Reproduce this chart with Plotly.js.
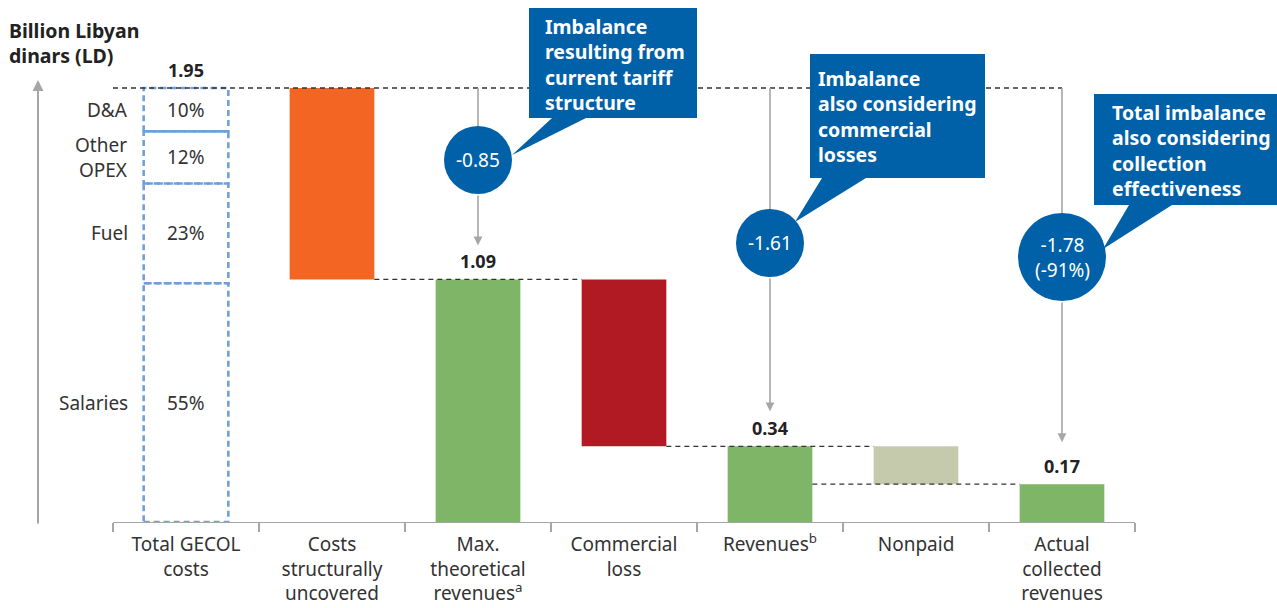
<!DOCTYPE html>
<html>
<head>
<meta charset="utf-8">
<script src="https://cdn.plot.ly/plotly-3.0.1.min.js"></script>
<style>
  html, body { margin: 0; padding: 0; background: #fff; }
  #chart { width: 1277px; height: 608px; }
</style>
</head>
<body>
<div id="chart"></div>
<script>
// --- data ---
const categories = [
  'Total GECOL costs', 'Costs structurally uncovered', 'Max. theoretical revenues',
  'Commercial loss', 'Revenues', 'Nonpaid', 'Actual collected revenues',
];
const tickLabels = [
  'Total GECOL<br>costs', 'Costs<br>structurally<br>uncovered', 'Max.<br>theoretical<br>revenues<sup>a</sup>',
  'Commercial<br>loss', 'Revenues<sup>b</sup>', 'Nonpaid', 'Actual<br>collected<br>revenues',
];
const barTop = [1.95, 1.95, 1.09, 1.09, 0.34, 0.34, 0.17];
const barBase = [0, 1.09, 0, 0.34, 0, 0.17, 0];
const showValue = [true, false, true, false, true, false, true];

// cost breakdown of the first bar, top to bottom
const costParts = ['D&A', 'Other<br>OPEX', 'Fuel', 'Salaries'];
const costShares = [10, 12, 23, 55];

// imbalance bubbles
const imbalanceCat = [2, 4, 6];
const imbalanceText = ['-0.85', '-1.61', '-1.78<br>(-91%)'];
const calloutText = [
  'Imbalance<br>resulting from<br>current tariff<br>structure',
  'Imbalance<br>also considering<br>commercial<br>losses',
  'Total imbalance<br>also considering<br>collection<br>effectiveness',
];

// --- styling / layout ---
const barColors = ['rgba(0,0,0,0)', '#f36523', '#7eb566', '#b11a22', '#7eb566', '#c6caac', '#7eb566'];
const BLUE = '#0061a8';
const GREY = '#a6a6a6';
const FONT = 'Noto Sans, Open Sans, Arial, sans-serif';
const barWidth = 0.58;
const hw = barWidth / 2;

const PX = { l: 113, t: 10, w: 1022, h: 512 };
const pxPerUnit = (522 - 88) / 1.95;
const yMax = PX.h / pxPerUnit;
const pxX = (x) => (x - PX.l) / PX.w;
const pxY = (y) => (PX.t + PX.h - y) / PX.h;

// bubble centres (data units) and radii (px)
const bubbleY = [(522 - 160) / pxPerUnit, (522 - 243) / pxPerUnit, (522 - 257) / pxPerUnit];
const bubbleR = [34, 34, 44];
const arrowGap = [34, 35, 42];

// callout boxes in px: [left, top, right, bottom, tailBase1, tailBase2, tipX, tipY, padLeft, padTop]
const calloutBox = [
  [529, 8, 697, 118, 552, 586, 512, 155, 14, 3],
  [810, 54, 985, 178, 822, 866, 795, 222, 6, 9],
  [1094, 94, 1290, 205, 1129, 1172, 1103, 249, 16, 3],
];

const trace = {
  type: 'bar',
  x: categories,
  y: barTop.map((t, i) => t - barBase[i]),
  base: barBase,
  width: barWidth,
  marker: { color: barColors, line: { width: 0 } },
  hoverinfo: 'skip',
};

const shapes = [];
const annotations = [];

// dashed outline of the cost breakdown, built from the bottom up
let acc = 0;
const bounds = [];
for (let i = costShares.length - 1; i >= 0; i--) {
  const lo = acc;
  acc += costShares[i] / 100 * barTop[0];
  bounds[i] = [lo, acc];
}
bounds.forEach(([lo, hi], i) => {
  shapes.push({
    type: 'rect', xref: 'x', yref: 'y', x0: -hw, x1: hw, y0: lo, y1: hi,
    line: { color: '#6fa0d8', width: 2.6, dash: '6px,4px' },
  });
  const mid = (lo + hi) / 2;
  annotations.push({
    x: categories[0], y: mid, xshift: -56, xanchor: 'right', showarrow: false,
    text: costParts[i], align: 'right', font: { size: 19, color: '#333' },
  });
  annotations.push({
    x: categories[0], y: mid, showarrow: false,
    text: costShares[i] + '%', font: { size: 19, color: '#333' },
  });
});

// dashed connectors
const dashLine = { color: '#333', width: 1.3, dash: '5px,4px' };
shapes.push({ type: 'line', xref: 'x', yref: 'y', x0: -0.5, x1: 6, y0: barTop[0], y1: barTop[0], line: dashLine });
[[1, 3, barBase[1]], [3, 5, barBase[3]], [4, 6, barBase[5]]].forEach(([a, b, y]) => {
  shapes.push({ type: 'line', xref: 'x', yref: 'y', x0: a + hw, x1: b - hw, y0: y, y1: y, line: dashLine });
});

// value labels
barTop.forEach((v, i) => {
  if (!showValue[i]) return;
  annotations.push({
    x: categories[i], y: v, yanchor: 'bottom', yshift: 4, showarrow: false,
    text: '<b>' + v.toFixed(2) + '</b>', font: { size: 18, color: '#222' },
  });
});

// imbalance arrows + bubbles
imbalanceCat.forEach((k, j) => {
  shapes.push({
    type: 'line', xref: 'x', yref: 'y', x0: k, x1: k, y0: barTop[0], y1: bubbleY[j],
    line: { color: GREY, width: 1.6 },
  });
  shapes.push({
    type: 'circle', xref: 'x', yref: 'y', xsizemode: 'pixel', ysizemode: 'pixel',
    xanchor: k, yanchor: bubbleY[j],
    x0: -bubbleR[j], x1: bubbleR[j], y0: -bubbleR[j], y1: bubbleR[j],
    fillcolor: BLUE, line: { width: 0 },
  });
  const dist = (bubbleY[j] - barTop[k]) * pxPerUnit - bubbleR[j];
  annotations.push({
    x: categories[k], y: barTop[k], ax: 0, ay: -dist, showarrow: true, text: '',
    arrowhead: 2, arrowsize: 1.1, arrowwidth: 1.6, arrowcolor: GREY, standoff: arrowGap[j],
  });
  annotations.push({
    x: categories[k], y: bubbleY[j], showarrow: false,
    text: imbalanceText[j], font: { size: 19, color: '#fff' },
  });
});

// callout boxes
calloutBox.forEach(([l, t, r, b, t1, t2, tx, ty, pl, pt], j) => {
  const p = (x, y) => pxX(x) + ',' + pxY(y);
  shapes.push({
    type: 'path', xref: 'paper', yref: 'paper', fillcolor: BLUE, line: { width: 0 },
    path: 'M' + p(l, t) + ' L' + p(r, t) + ' L' + p(r, b) + ' L' + p(t2, b) + ' L' + p(tx, ty) +
      ' L' + p(t1, b) + ' L' + p(l, b) + ' Z',
  });
  annotations.push({
    xref: 'paper', yref: 'paper', x: pxX(l + pl), y: pxY(t + pt), xanchor: 'left', yanchor: 'top',
    align: 'left', showarrow: false, text: '<b>' + calloutText[j] + '</b>',
    font: { size: 19.5, color: '#fff' },
  });
});

// y axis arrow and title
annotations.push({
  xref: 'paper', yref: 'paper', x: pxX(38), y: pxY(80), ax: 0, ay: 445,
  showarrow: true, text: '', arrowhead: 2, arrowsize: 1.1, arrowwidth: 2, arrowcolor: GREY,
});
annotations.push({
  xref: 'paper', yref: 'paper', x: pxX(7), y: pxY(15), xanchor: 'left', yanchor: 'top',
  align: 'left', showarrow: false, text: '<b>Billion Libyan<br>dinars (LD)</b>',
  font: { size: 19.5, color: '#222' },
});

const layout = {
  width: 1277,
  height: 608,
  margin: { l: PX.l, r: 1277 - PX.l - PX.w, t: PX.t, b: 608 - PX.t - PX.h },
  paper_bgcolor: '#fff',
  plot_bgcolor: '#fff',
  showlegend: false,
  font: { family: FONT, color: '#333' },
  xaxis: {
    type: 'category', range: [-0.5, 6.5], tickvals: categories, ticktext: tickLabels,
    tickson: 'boundaries', ticks: 'outside', ticklen: 9, tickcolor: GREY, tickwidth: 1.2,
    ticklabelstandoff: 5,
    showline: true, linecolor: GREY, linewidth: 1.2, showgrid: false,
    tickfont: { size: 19, color: '#333' }, fixedrange: true,
  },
  yaxis: { range: [0, yMax], visible: false, showgrid: false, zeroline: false, fixedrange: true },
  shapes,
  annotations,
};

Plotly.newPlot('chart', [trace], layout, { displayModeBar: false, staticPlot: true });
</script>
</body>
</html>
